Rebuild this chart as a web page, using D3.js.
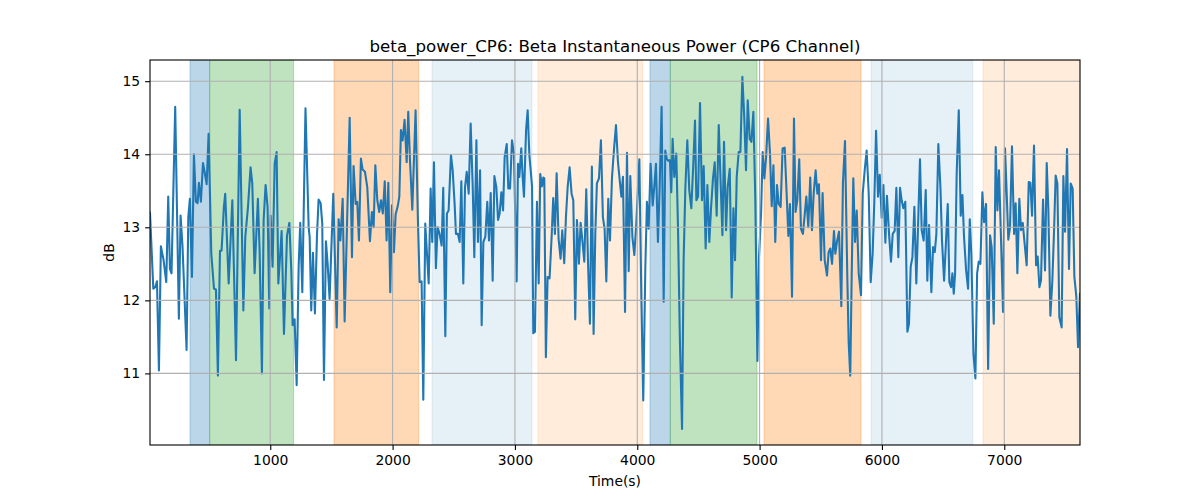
<!DOCTYPE html>
<html>
<head>
<meta charset="utf-8">
<script src="https://cdn.jsdelivr.net/npm/d3@7"></script>
<style>
  html, body { margin: 0; padding: 0; background: #ffffff; }
  svg { display: block; }
  text { font-family: "DejaVu Sans", sans-serif; fill: #000; }
</style>
</head>
<body>
<svg id="chart" width="1200" height="500"></svg>
<script>
// ---------------- DATA ----------------
const titleText = "beta_power_CP6: Beta Instantaneous Power (CP6 Channel)";
const xLabelText = "Time(s)";
const yLabelText = "dB";
const xTicks = [1000, 2000, 3000, 4000, 5000, 6000, 7000];
const yTicks = [11, 12, 13, 14, 15];
const yDomain = [10.02, 15.29];

// shaded phases: [start, end, colour, opacity]
const bandStart = [344, 505, 1521, 2322, 3188, 4104, 4270, 5036, 5911, 6826];
const bandEnd   = [505, 1191, 2213, 3139, 4044, 4270, 4979, 5829, 6742, 7619];
const bandColor = ["#1f77b4", "#2ca02c", "#ff7f0e", "#1f77b4", "#ff7f0e", "#1f77b4", "#2ca02c", "#ff7f0e", "#1f77b4", "#ff7f0e"];
const bandAlpha = [0.3, 0.3, 0.3, 0.11, 0.15, 0.3, 0.3, 0.3, 0.11, 0.15];

const times = [
  17,44,60,74,90,106,128,150,166,180,193,223,253,267,283,316,330,343,360,376,392,406,417,433,450,463,480,496,518,540,556,572,589,602,621,632,
  660,690,720,750,780,796,818,839,853,872,899,913,932,946,962,978,992,1003,1019,1036,1052,1066,1093,1112,1137,1156,1172,1183,1199,1216,1232,1245,1262,1288,
  1314,1322,1335,1349,1365,1382,1395,1412,1425,1439,1455,1469,1485,1515,1543,1559,1573,1592,1608,1649,1668,1681,1698,1711,1725,1741,1755,1774,1793,1815,1831,1845,1859,1875,1891,1905,
  1920,1936,1951,1965,1981,1995,2011,2025,2041,2055,2068,2082,2098,2115,2128,2142,2161,2188,2207,2221,2237,2251,2267,2295,2311,2324,2338,2354,2368,2384,2401,2414,2431,2444,2458,2477,2491,2507,2518,2534,2548,2562,
  2578,2592,2606,2622,2638,2655,2668,2685,2698,2715,2728,2742,2758,2774,2788,2802,2818,2832,2848,2862,2875,2889,2903,2916,2933,2946,2960,2976,2992,3014,3025,3036,3052,3063,3074,3091,3104,3118,3140,3150,3164,3180,3194,
  3207,3221,3232,3240,3253,3267,3283,3300,3313,3327,3341,3357,3373,3387,3403,3417,3431,3447,3463,3477,3493,3507,3523,3537,3550,3567,3583,3597,3613,3629,3643,3657,3670,3687,3703,3719,3733,3747,3763,3777,3793,3809,3826,
  3842,3859,3870,3883,3900,3916,3930,3943,3960,3976,3992,4017,4033,4049,4066,4079,4093,4109,4126,4139,4153,4169,4183,4199,4216,4229,4243,4254,4267,4278,4289,4303,4319,4333,4349,4366,4379,4393,4409,4425,4442,4458,4472,
  4483,4497,4513,4529,4543,4559,4573,4589,4603,4619,4633,4649,4666,4679,4696,4709,4726,4739,4756,4772,4786,4799,4813,4829,4843,4859,4875,4889,4903,4919,4933,4949,4965,4982,4995,5012,5025,5039,5053,5069,5085,5099,5113,
  5128,5142,5156,5172,5188,5205,5221,5235,5248,5265,5281,5294,5308,5324,5338,5354,5368,5382,5398,5414,5428,5442,5458,5472,5485,5502,5515,5532,5551,5564,5578,5592,5608,5619,5632,5649,5668,5681,5698,5717,5728,
  5741,5753,5766,5780,5794,5810,5829,5843,5859,5875,5892,5908,5924,5938,5952,5968,5982,5998,6012,6028,6041,6058,6074,6088,6104,6118,6134,6148,6161,6175,6191,6208,6221,6235,6249,6265,6281,6295,6311,6325,6341,6358,6371,6385,
  6404,6418,6432,6445,6461,6478,6491,6508,6524,6538,6551,6565,6576,6587,6598,6611,6628,6644,6658,6671,6688,6704,6718,6731,6748,6764,6778,6791,6805,6821,6835,6851,6868,6884,6897,6914,6930,6944,6957,6974,6990,7006,
  7020,7033,7047,7063,7080,7093,7107,7123,7137,7151,7164,7183,7200,7213,7227,7243,7260,7273,7287,7300,7317,7333,7347,7360,7377,7393,7407,7420,7434,7450,7469,7483,7497,7513,7529,7543,7559,7573,7589,7603,7619
];

const power = [
  13.2,12.16,12.18,12.26,11.04,12.74,12.55,12.25,13.42,12.43,12.37,14.65,11.75,13.16,12.73,11.32,13.14,13.39,12.32,14.0,13.35,13.33,13.61,13.35,13.88,13.76,13.59,14.28,12.64,12.16,12.15,10.97,12.68,12.68,13.28,13.46,
  12.23,13.37,11.18,14.61,11.86,12.87,13.28,13.82,13.60,12.37,13.39,12.68,11.00,13.10,13.58,13.28,11.89,13.16,12.46,13.87,14.03,12.23,12.95,11.54,12.89,13.06,12.41,11.66,11.74,10.84,12.46,13.06,12.11,14.63,
  13.00,12.87,11.86,12.65,11.82,12.89,13.38,13.33,13.05,10.91,12.81,12.50,12.02,13.46,11.63,13.11,12.82,13.39,11.71,14.50,12.59,13.84,13.32,13.35,12.82,13.94,13.79,13.76,13.55,12.81,13.21,13.00,13.85,13.37,13.21,13.37,
  13.19,13.63,12.82,13.61,12.11,13.30,12.66,13.18,13.28,13.42,14.33,14.19,14.47,13.89,14.58,13.92,13.24,14.60,13.10,12.25,12.26,10.64,13.05,12.23,13.53,12.80,13.89,12.44,13.00,12.91,12.75,13.54,11.51,13.19,13.23,13.99,13.78,13.32,12.91,12.91,12.80,13.63,
  12.23,13.55,13.76,13.46,14.42,13.55,12.59,14.19,12.80,13.78,11.66,12.80,12.87,13.35,12.82,13.47,12.27,13.70,13.55,13.10,13.19,13.48,13.23,13.96,14.14,13.53,13.53,14.19,14.01,12.26,13.87,13.69,14.08,13.69,13.42,14.33,14.60,13.99,13.56,11.55,11.57,13.35,12.23,
  13.73,13.56,13.68,13.67,11.22,12.32,12.30,12.87,13.40,12.91,13.74,12.84,12.57,12.96,12.51,13.14,13.55,13.82,13.46,13.37,11.74,13.10,12.50,13.06,12.84,12.53,13.52,12.55,11.68,13.83,11.54,12.91,13.60,13.67,14.19,13.14,12.98,12.26,13.39,12.82,13.67,14.05,14.40,
  13.9,13.60,13.42,13.69,11.84,14.02,12.40,13.70,12.87,12.62,13.05,13.93,12.09,10.63,12.46,13.35,12.98,13.87,13.30,13.55,13.87,12.80,13.55,14.65,11.98,14.05,13.93,13.91,13.92,13.48,14.21,13.69,14.01,13.00,11.41,10.24,12.55,13.53,14.19,13.51,13.26,13.87,14.46,
  13.37,13.42,14.70,13.37,13.84,12.71,13.58,12.80,13.26,13.67,13.89,13.16,14.40,13.74,12.89,14.17,12.96,13.55,13.80,12.04,13.26,12.55,13.69,14.03,14.03,15.06,14.49,13.78,14.74,14.21,14.17,14.58,13.37,11.17,12.59,13.19,14.03,13.67,13.96,14.49,14.01,13.29,13.85,
  12.80,13.58,13.32,13.28,14.08,14.09,13.46,12.88,13.32,12.05,14.49,13.21,13.37,13.93,12.98,12.91,13.16,13.42,13.00,13.68,12.96,13.46,13.78,13.46,13.59,12.55,13.47,12.55,12.34,12.66,12.71,12.50,12.95,12.64,12.80,12.94,11.92,13.60,14.18,12.32,11.43,
  10.97,12.37,13.67,12.80,13.23,12.37,12.07,13.46,13.78,14.05,13.46,12.25,12.64,13.37,14.32,13.42,13.72,13.13,13.58,12.79,13.43,12.91,12.53,12.91,12.95,13.54,12.59,13.54,13.37,13.26,13.35,11.57,11.68,12.46,12.59,13.28,12.23,13.00,13.93,12.96,12.82,13.51,12.27,13.03,
  12.11,12.73,12.66,12.91,14.14,13.55,12.82,12.27,12.82,13.32,12.25,12.18,12.37,12.09,12.37,13.74,14.60,13.16,13.44,12.87,12.41,12.16,13.11,12.62,11.27,10.93,12.37,12.53,12.50,13.48,13.07,13.32,11.06,12.89,12.73,11.68,14.10,13.23,13.78,12.80,11.84,14.08,
  13.46,12.83,13.00,14.11,12.91,13.33,12.37,13.39,12.96,13.06,12.82,12.48,13.62,13.61,13.16,14.12,12.48,12.60,12.18,12.27,13.38,12.41,13.88,13.26,11.79,12.27,12.96,13.71,13.60,11.77,11.63,13.70,12.94,14.07,12.43,13.60,13.53,12.32,12.05,11.36,12.09
];

// ---------------- LAYOUT ----------------
const W = 1200, H = 500;
const m = { left: 150, right: 120, top: 60, bottom: 55 };
const pw = W - m.left - m.right, ph = H - m.top - m.bottom;

const svg = d3.select("#chart");
const g = svg.append("g").attr("transform", `translate(${m.left},${m.top})`);

const x = d3.scaleLinear().domain(d3.extent(times)).range([0, pw]);
const y = d3.scaleLinear().domain(yDomain).range([ph, 0]);

g.append("clipPath").attr("id", "clip").append("rect").attr("width", pw).attr("height", ph);
const plot = g.append("g").attr("clip-path", "url(#clip)");

// bands
const bands = bandStart.map((s, i) => ({ s, e: bandEnd[i], c: bandColor[i], a: bandAlpha[i] }));
plot.selectAll("rect.band").data(bands).enter().append("rect")
  .attr("class", "band")
  .attr("x", d => x(d.s)).attr("width", d => x(d.e) - x(d.s))
  .attr("y", 0).attr("height", ph)
  .attr("fill", d => d.c).attr("fill-opacity", d => d.a)
  .attr("stroke", d => d.c).attr("stroke-opacity", d => d.a).attr("stroke-width", 1);

// grid
const gridG = g.append("g");
gridG.selectAll("line.gx").data(xTicks).enter().append("line")
  .attr("x1", d => x(d)).attr("x2", d => x(d)).attr("y1", 0).attr("y2", ph)
  .attr("stroke", "#b0b0b0").attr("stroke-width", 1.1);
gridG.selectAll("line.gy").data(yTicks).enter().append("line")
  .attr("x1", 0).attr("x2", pw).attr("y1", d => y(d)).attr("y2", d => y(d))
  .attr("stroke", "#b0b0b0").attr("stroke-width", 1.1);

// line
const data = times.map((t, i) => ({ t, v: power[i] }));
plot.append("path").datum(data)
  .attr("fill", "none").attr("stroke", "#1f77b4").attr("stroke-width", 2.08)
  .attr("stroke-linejoin", "round").attr("stroke-linecap", "square")
  .attr("d", d3.line().x(d => x(d.t)).y(d => y(d.v)));

// axes
const xAxis = d3.axisBottom(x).tickValues(xTicks).tickSize(4.9).tickPadding(4.9).tickFormat(d3.format("d"));
const yAxis = d3.axisLeft(y).tickValues(yTicks).tickSize(4.9).tickPadding(4.9).tickFormat(d3.format("d"));
const gx = g.append("g").attr("transform", `translate(0,${ph})`).call(xAxis);
const gy = g.append("g").call(yAxis);
[gx, gy].forEach(a => {
  a.select(".domain").remove();
  a.selectAll(".tick line").attr("stroke", "#000").attr("stroke-width", 1.1);
  a.selectAll(".tick text").attr("font-size", "13.9px").attr("font-family", "DejaVu Sans").attr("fill", "#000");
});

// spines
g.append("rect").attr("x", 0).attr("y", 0).attr("width", pw).attr("height", ph)
  .attr("fill", "none").attr("stroke", "#000").attr("stroke-width", 1.1);

// labels
svg.append("text").attr("x", m.left + pw / 2).attr("y", m.top - 8.5)
  .attr("text-anchor", "middle").attr("font-size", "16.67px").text(titleText);
svg.append("text").attr("x", m.left + pw / 2).attr("y", 486)
  .attr("text-anchor", "middle").attr("font-size", "13.9px").text(xLabelText);
svg.append("text").attr("transform", `translate(114,${m.top + ph / 2}) rotate(-90)`)
  .attr("text-anchor", "middle").attr("font-size", "13.9px").text(yLabelText);
</script>
</body>
</html>
